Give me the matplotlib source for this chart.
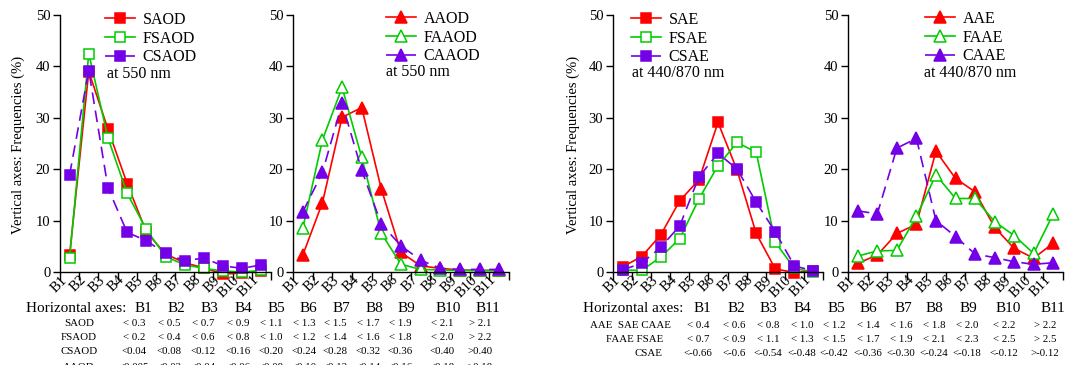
import matplotlib
matplotlib.use('Agg')
import matplotlib.pyplot as plt
import numpy as np

plt.rcParams['font.family'] = ['Liberation Serif', 'DejaVu Serif']

# ---------------- data ----------------
bins = ['B1', 'B2', 'B3', 'B4', 'B5', 'B6', 'B7', 'B8', 'B9', 'B10', 'B11']

saod = [3.3, 39.0, 27.8, 17.2, 7.8, 3.5, 1.8, 0.8, -0.4, -0.2, 0.2]
fsaod = [2.7, 42.5, 26.1, 15.3, 8.3, 3.0, 1.4, 0.7, 0.2, 0.0, 0.3]
csaod = [18.9, 39.2, 16.4, 7.7, 6.1, 3.6, 2.2, 2.7, 1.2, 0.7, 1.4]

aaod = [3.3, 13.5, 30.1, 32.0, 16.1, 3.8, 1.2, 0.7, 0.4, 0.3, 0.3]
faaod = [8.5, 25.7, 35.9, 22.3, 7.5, 1.5, 0.5, 0.4, 0.3, 0.3, 0.3]
caaod = [11.7, 19.4, 32.8, 19.8, 9.3, 5.1, 2.3, 0.7, 0.5, 0.5, 0.5]

sae = [1.0, 3.0, 7.2, 13.9, 17.9, 29.1, 19.8, 7.5, 0.6, -0.1, 0.2]
fsae = [0.4, 0.3, 2.9, 6.5, 14.2, 20.7, 25.2, 23.3, 5.8, 0.7, 0.0]
csae = [0.4, 1.7, 4.8, 9.0, 18.5, 23.1, 20.0, 13.6, 7.8, 1.2, 0.2]

aae = [1.7, 3.3, 7.5, 9.3, 23.5, 18.2, 15.6, 8.7, 4.6, 2.7, 5.6]
faae = [3.1, 4.1, 4.2, 10.8, 18.9, 14.3, 14.3, 9.8, 7.1, 3.6, 11.3]
caae = [11.9, 11.3, 24.1, 26.0, 10.0, 6.9, 3.5, 2.8, 2.0, 1.5, 1.8]

yticks = [0, 10, 20, 30, 40, 50]

# table texts
tbl_left_rows = ['SAOD', 'FSAOD', 'CSAOD', 'AAOD']
tbl_left_vals = [
    ['< 0.3', '< 0.5', '< 0.7', '< 0.9', '< 1.1', '< 1.3', '< 1.5', '< 1.7', '< 1.9', '< 2.1', '> 2.1'],
    ['< 0.2', '< 0.4', '< 0.6', '< 0.8', '< 1.0', '< 1.2', '< 1.4', '< 1.6', '< 1.8', '< 2.0', '> 2.2'],
    ['<0.04', '<0.08', '<0.12', '<0.16', '<0.20', '<0.24', '<0.28', '<0.32', '<0.36', '<0.40', '>0.40'],
    ['<0.005', '<0.02', '<0.04', '<0.06', '<0.08', '<0.10', '<0.12', '<0.14', '<0.16', '<0.18', '>0.18'],
]
tbl_right_rows = ['AAE  SAE CAAE', 'FAAE FSAE', 'CSAE']
tbl_right_vals = [
    ['< 0.4', '< 0.6', '< 0.8', '< 1.0', '< 1.2', '< 1.4', '< 1.6', '< 1.8', '< 2.0', '< 2.2', '> 2.2'],
    ['< 0.7', '< 0.9', '< 1.1', '< 1.3', '< 1.5', '< 1.7', '< 1.9', '< 2.1', '< 2.3', '< 2.5', '> 2.5'],
    ['<-0.66', '<-0.6', '<-0.54', '<-0.48', '<-0.42', '<-0.36', '<-0.30', '<-0.24', '<-0.18', '<-0.12', '>-0.12'],
]

# ---------------- layout ----------------
W, H = 1085, 365
fig = plt.figure(figsize=(W / 100, H / 100), dpi=100)

RED = '#FF0000'
GREEN = '#00CC00'
PURPLE = '#7300E6'
DASH = (0, (7, 4))


def fx(px):
    return px / W


def fy(py):
    return 1 - py / H


def make_axes(x0, x1, y0=15, y1=272):
    return fig.add_axes([fx(x0), fy(y1), (x1 - x0) / W, (y1 - y0) / H])


def panel(ax, series, marker, leg_px, note, note_px):
    x = np.arange(len(bins)) + 0.5
    for vals, name, color, filled, ls in series:
        ax.plot(x, vals, color=color, ls=ls, lw=1.2, marker=marker,
                ms=8.3 if marker == '^' else 7.2, mfc=color if filled else 'white',
                mec=color, mew=1.1, clip_on=False, label=name)
    ax.set_xlim(0, len(bins))
    ax.set_ylim(0, 50)
    ax.set_yticks(yticks)
    ax.set_xticks(np.arange(len(bins) + 1))
    ax.set_xticklabels([])
    ax.set_xticks(x, minor=True)
    ax.set_xticklabels(bins, minor=True, rotation=45, ha='right', fontsize=10.5)
    ax.tick_params(axis='x', which='major', direction='out', length=6, width=1)
    ax.tick_params(axis='x', which='minor', length=0, pad=1)
    ax.tick_params(axis='y', direction='out', length=5, width=1, labelsize=10.5, pad=2)
    for s in ['top', 'right']:
        ax.spines[s].set_visible(False)
    for s in ['left', 'bottom']:
        ax.spines[s].set_linewidth(1.0)
    ax.legend(loc='upper left', bbox_to_anchor=(fx(leg_px[0]), fy(leg_px[1])),
              bbox_transform=fig.transFigure, frameon=False, fontsize=11.5,
              handlelength=1.9, handletextpad=0.45, labelspacing=0.16,
              borderpad=0, borderaxespad=0)
    fig.text(fx(note_px[0]), fy(note_px[1]), note, fontsize=11.5, ha='left', va='center')


ax1 = make_axes(60, 271)
panel(ax1, [(saod, 'SAOD', RED, True, '-'), (fsaod, 'FSAOD', GREEN, False, '-'),
            (csaod, 'CSAOD', PURPLE, True, DASH)], 's', (105, 12), 'at 550 nm', (107, 74))

ax2 = make_axes(293, 509)
panel(ax2, [(aaod, 'AAOD', RED, True, '-'), (faaod, 'FAAOD', GREEN, False, '-'),
            (caaod, 'CAAOD', PURPLE, True, DASH)], '^', (386, 11), 'at 550 nm', (386, 72))

ax3 = make_axes(613, 823)
panel(ax3, [(sae, 'SAE', RED, True, '-'), (fsae, 'FSAE', GREEN, False, '-'),
            (csae, 'CSAE', PURPLE, True, DASH)], 's', (631, 12), 'at 440/870 nm', (632, 73))

ax4 = make_axes(848, 1063)
panel(ax4, [(aae, 'AAE', RED, True, '-'), (faae, 'FAAE', GREEN, False, '-'),
            (caae, 'CAAE', PURPLE, True, DASH)], '^', (925, 11), 'at 440/870 nm', (924, 73))

ylab = 'Vertical axes: Frequencies (%)'
fig.text(fx(18), fy(145), ylab, rotation=90, ha='center', va='center', fontsize=10.5)
fig.text(fx(573), fy(145), ylab, rotation=90, ha='center', va='center', fontsize=10.5)

# ---------------- tables ----------------
HDR_Y = 309
hdr_fs = 11
val_fs = 7.8

# left table
fig.text(fx(76), fy(HDR_Y), 'Horizontal axes:', ha='center', va='center', fontsize=hdr_fs)
left_hdr_x = [143, 176, 209, 243, 276, 308, 341, 374, 406, 448, 488]
for b, xp in zip(bins, left_hdr_x):
    fig.text(fx(xp), fy(HDR_Y), b, ha='center', va='center', fontsize=hdr_fs)
left_val_x = [134, 169, 203, 238, 271, 304, 335, 368, 400, 442, 480]
left_row_y = [323, 338, 352, 367]
for name, vals, yp in zip(tbl_left_rows, tbl_left_vals, left_row_y):
    fig.text(fx(79), fy(yp), name, ha='center', va='center', fontsize=val_fs)
    for v, xp in zip(vals, left_val_x):
        fig.text(fx(xp), fy(yp), v, ha='center', va='center', fontsize=val_fs)

# right table
fig.text(fx(633), fy(HDR_Y), 'Horizontal axes:', ha='center', va='center', fontsize=hdr_fs)
right_hdr_x = [702, 736, 768, 802, 836, 868, 903, 934, 968, 1008, 1053]
for b, xp in zip(bins, right_hdr_x):
    fig.text(fx(xp), fy(HDR_Y), b, ha='center', va='center', fontsize=hdr_fs)
right_val_x = [698, 734, 768, 802, 834, 868, 901, 934, 967, 1004, 1045]
right_row_x = [630, 635, 648]
right_row_y = [325, 339, 353]
for name, vals, xr, yp in zip(tbl_right_rows, tbl_right_vals, right_row_x, right_row_y):
    fig.text(fx(xr), fy(yp), name, ha='center', va='center', fontsize=val_fs)
    for v, xp in zip(vals, right_val_x):
        fig.text(fx(xp), fy(yp), v, ha='center', va='center', fontsize=val_fs)

fig.savefig('out.png', dpi=100)
